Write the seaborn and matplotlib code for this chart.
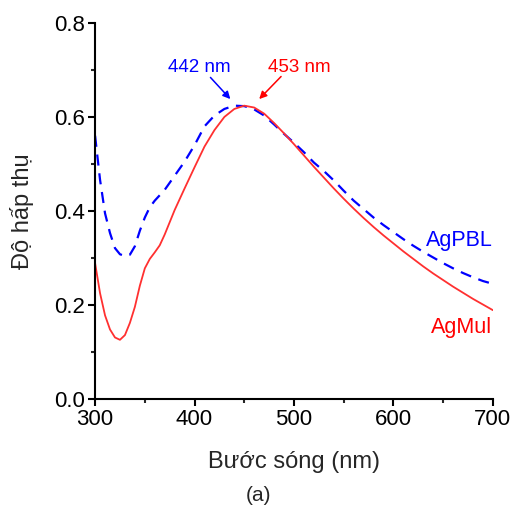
import matplotlib
matplotlib.use("Agg")

import pandas as pd
import matplotlib.pyplot as plt
import seaborn as sns
from matplotlib.ticker import MultipleLocator, FormatStrFormatter

# ─────────────────────── data ────────────────────
WAVE_PBL = [300, 305, 310, 315, 320, 325, 330, 335, 340, 345, 350, 355, 360,
            370, 380, 390, 400, 410, 420, 430, 440, 450, 460, 470, 480, 490,
            500, 510, 520, 530, 540, 550, 560, 570, 580, 590, 600, 610, 620,
            630, 640, 650, 660, 670, 680, 690, 700]
ABS_PBL = [0.560, 0.466, 0.395, 0.353, 0.321, 0.308, 0.304, 0.307, 0.325,
           0.358, 0.386, 0.408, 0.422, 0.445, 0.475, 0.505, 0.540, 0.580,
           0.603, 0.617, 0.624, 0.623, 0.616, 0.603, 0.584, 0.564, 0.545,
           0.525, 0.503, 0.485, 0.465, 0.443, 0.422, 0.404, 0.386, 0.370,
           0.355, 0.340, 0.326, 0.313, 0.301, 0.289, 0.278, 0.268, 0.259,
           0.251, 0.245]

WAVE_MUL = [300, 305, 310, 315, 320, 325, 330, 335, 340, 345, 350, 355, 360,
            365, 370, 380, 390, 400, 410, 420, 430, 440, 450, 460, 470, 480,
            490, 500, 510, 520, 530, 540, 550, 560, 570, 580, 590, 600, 610,
            620, 630, 640, 650, 660, 670, 680, 690, 700]
ABS_MUL = [0.289, 0.225, 0.178, 0.148, 0.131, 0.126, 0.136, 0.162, 0.196,
           0.241, 0.278, 0.298, 0.312, 0.327, 0.350, 0.402, 0.448, 0.493,
           0.537, 0.572, 0.600, 0.617, 0.624, 0.620, 0.607, 0.587, 0.565,
           0.542, 0.518, 0.494, 0.471, 0.448, 0.426, 0.405, 0.385, 0.366,
           0.348, 0.331, 0.314, 0.298, 0.282, 0.267, 0.253, 0.239, 0.226,
           0.213, 0.201, 0.189]

PEAK_LABELS = ["442 nm", "453 nm"]

BLUE = "#0000ff"
RED = "#ff3030"
TXT_RED = "#ff0000"

# ─────────────────────── plot ───────────────────────────────────────────
sns.set_style("ticks")
plt.rcParams["font.family"] = ["Liberation Sans", "DejaVu Sans"]

fig = plt.figure(figsize=(5.14, 5.09), dpi=100)
ax = fig.add_axes([0.185, 0.216, 0.774, 0.739])

df_pbl = pd.DataFrame({"x": WAVE_PBL, "y": ABS_PBL})
df_mul = pd.DataFrame({"x": WAVE_MUL, "y": ABS_MUL})

sns.lineplot(data=df_pbl, x="x", y="y", ax=ax, color=BLUE, lw=1.6,
             linestyle=(0, (5, 3.5)))
sns.lineplot(data=df_mul, x="x", y="y", ax=ax, color=RED, lw=1.3)

ax.set_xlim(300, 700)
ax.set_ylim(0, 0.8)
ax.xaxis.set_major_locator(MultipleLocator(100))
ax.xaxis.set_minor_locator(MultipleLocator(50))
ax.yaxis.set_major_locator(MultipleLocator(0.2))
ax.yaxis.set_minor_locator(MultipleLocator(0.1))
ax.yaxis.set_major_formatter(FormatStrFormatter("%.1f"))

sns.despine(ax=ax)
for side in ("left", "bottom"):
    ax.spines[side].set_linewidth(1.5)
    ax.spines[side].set_color("black")
ax.tick_params(which="major", direction="out", length=5, width=1.5,
               labelsize=16, colors="black", pad=2)
ax.tick_params(which="minor", direction="out", length=3, width=1.5)

ax.set_xlabel("Bước sóng (nm)", fontsize=17)
ax.set_ylabel("Độ hấp thụ", fontsize=17)
ax.xaxis.set_label_coords(0.5, -0.168)
ax.yaxis.set_label_coords(-0.183, 0.5)
ax.xaxis.label.set_va("center")
ax.yaxis.label.set_va("center")

# peak annotations: text and arrows placed separately
ax.text(405, 0.706, PEAK_LABELS[0], color=BLUE, fontsize=13.5,
        ha="center", va="center")
ax.text(505, 0.706, PEAK_LABELS[1], color=TXT_RED, fontsize=13.5,
        ha="center", va="center")
ax.annotate("", xy=(436, 0.638), xytext=(416, 0.684),
            arrowprops=dict(arrowstyle="-|>", color=BLUE, lw=1.1,
                            shrinkA=0, shrinkB=0, mutation_scale=11))
ax.annotate("", xy=(465, 0.638), xytext=(487, 0.686),
            arrowprops=dict(arrowstyle="-|>", color=TXT_RED, lw=1.1,
                            shrinkA=0, shrinkB=0, mutation_scale=11))

ax.text(700, 0.338, "AgPBL", color=BLUE, fontsize=15.5, ha="right",
        va="center")
ax.text(699, 0.153, "AgMul", color=TXT_RED, fontsize=15.5, ha="right",
        va="center")

fig.text(0.502, 0.027, "(a)", fontsize=15, ha="center", va="center",
         family=["Liberation Sans Narrow", "Liberation Sans"])

fig.savefig("out.png", dpi=100)
